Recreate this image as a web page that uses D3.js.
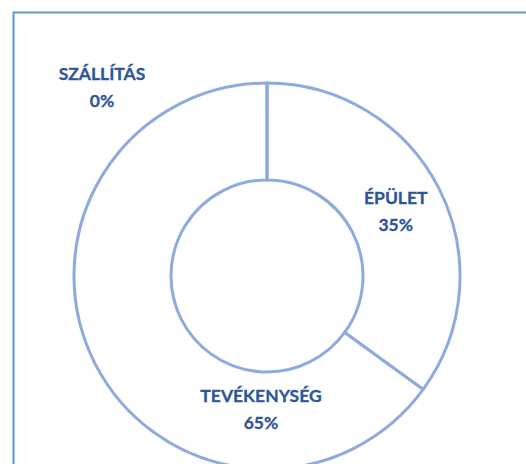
<!DOCTYPE html>
<html>
<head>
<meta charset="utf-8">
<script src="https://cdn.jsdelivr.net/npm/d3@7"></script>
<style>
  html, body { margin: 0; padding: 0; background: #fff; }
  svg { display: block; }
</style>
</head>
<body>
<script>
const categories = ["ÉPÜLET", "TEVÉKENYSÉG", "SZÁLLÍTÁS"];
const values = [35, 65, 0];
const percentLabels = ["35%", "65%", "0%"];

const W = 526, H = 464;
const svg = d3.select("body").append("svg").attr("width", W).attr("height", H);

// chart area border (extends beyond the window on right/bottom)
svg.append("rect")
  .attr("x", 13.5).attr("y", 12.5)
  .attr("width", 700).attr("height", 700)
  .attr("fill", "none").attr("stroke", "#5B9BD5").attr("stroke-width", 2);

const cx = 267, cy = 276, rOuter = 193, rInner = 96;
const g = svg.append("g").attr("transform", `translate(${cx},${cy})`);

const pie = d3.pie().sort(null).value(d => d)(values);
const arc = d3.arc().innerRadius(rInner).outerRadius(rOuter);

g.selectAll("path.slice")
  .data(pie)
  .join("path")
  .attr("class", "slice")
  .attr("d", arc)
  .attr("fill", "#ffffff")
  .attr("stroke", "#8FAADC")
  .attr("stroke-width", 3)
  .attr("stroke-linejoin", "round");

// label placement: centroid for ÉPÜLET, best-fit offsets for others
const labelArc = d3.arc().innerRadius((rInner + rOuter) / 2).outerRadius((rInner + rOuter) / 2);
function labelPos(d, i) {
  if (i === 0) return labelArc.centroid(d);
  if (i === 1) return [-6, 132];
  return [-165, -190];
}

const labels = g.selectAll("g.lbl")
  .data(pie)
  .join("g")
  .attr("class", "lbl")
  .attr("transform", (d, i) => `translate(${labelPos(d, i)})`);

const font = "Lato, 'Open Sans', sans-serif";
labels.append("text")
  .attr("text-anchor", "middle")
  .attr("y", -6)
  .attr("font-family", font)
  .attr("font-weight", "bold")
  .attr("font-size", 17.5)
  .attr("fill", "#2E5597")
  .attr("stroke", "#2E5597").attr("stroke-width", 0.3)
  .text((d, i) => categories[i]);

labels.append("text")
  .attr("text-anchor", "middle")
  .attr("y", 21)
  .attr("font-family", font)
  .attr("font-weight", "bold")
  .attr("font-size", 17.5)
  .attr("fill", "#2E5597")
  .attr("stroke", "#2E5597").attr("stroke-width", 0.3)
  .text((d, i) => percentLabels[i]);
</script>
</body>
</html>
